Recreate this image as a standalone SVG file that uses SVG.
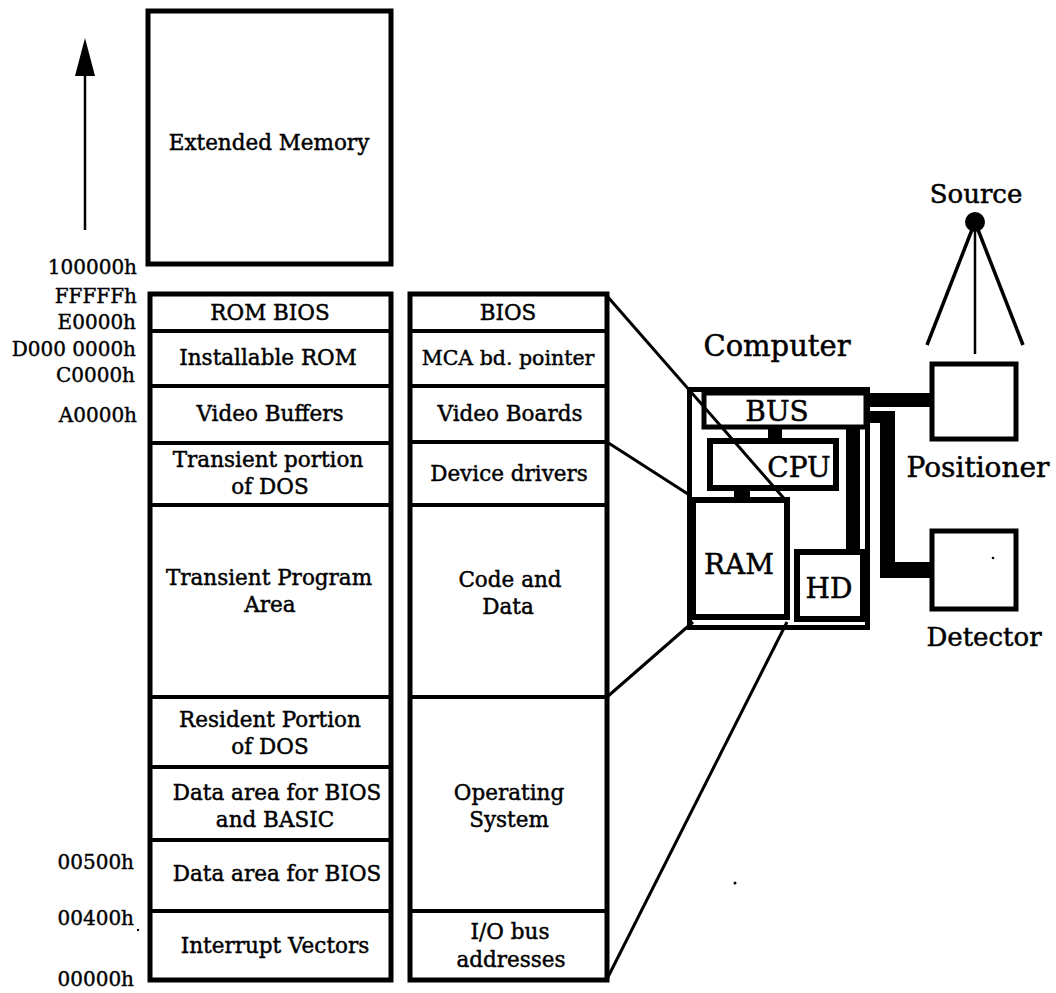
<svg xmlns="http://www.w3.org/2000/svg" width="1056" height="993" viewBox="0 0 1056 993">
<style>
.t{font-family:"DejaVu Serif","Liberation Serif",serif;font-size:21.5px;fill:#000;stroke:#000;stroke-width:0.45;text-anchor:middle}
.a{font-family:"DejaVu Serif","Liberation Serif",serif;font-size:20px;fill:#000;stroke:#000;stroke-width:0.4;text-anchor:end}
.b{font-family:"DejaVu Serif","Liberation Serif",serif;font-size:28px;fill:#000;stroke:#000;stroke-width:0.5;text-anchor:middle}
.box{fill:#fff;stroke:#000;stroke-width:5}
.div{stroke:#000;stroke-width:4}
.ln{stroke:#000;stroke-width:3;fill:none}
</style>
<rect width="1056" height="993" fill="#fff"/>

<g id="axis-arrow">
<line x1="85" y1="230" x2="85" y2="72" stroke="#000" stroke-width="2.5"/>
<polygon points="85,38 75,76 95,76" fill="#000"/>
</g>

<g id="address-labels">
<text class="a" x="137" y="274">100000h</text>
<text class="a" x="137" y="303">FFFFFh</text>
<text class="a" x="136" y="329">E0000h</text>
<text class="a" x="136" y="356">D000 0000h</text>
<text class="a" x="135" y="382">C0000h</text>
<text class="a" x="137" y="422">A0000h</text>
<text class="a" x="134" y="869">00500h</text>
<text class="a" x="134" y="925">00400h</text>
<text class="a" x="134" y="986">00000h</text>
</g>

<g id="extended-memory">
<rect class="box" x="148" y="11" width="243" height="253"/>
<text class="t" x="269" y="150">Extended Memory</text>
</g>

<g id="memory-map">
<rect class="box" x="150" y="294" width="241" height="686"/>
<line class="div" x1="150" y1="331" x2="391" y2="331"/>
<line class="div" x1="150" y1="386" x2="391" y2="386"/>
<line class="div" x1="150" y1="443" x2="391" y2="443"/>
<line class="div" x1="150" y1="505" x2="391" y2="505"/>
<line class="div" x1="150" y1="697" x2="391" y2="697"/>
<line class="div" x1="150" y1="767" x2="391" y2="767"/>
<line class="div" x1="150" y1="840" x2="391" y2="840"/>
<line class="div" x1="150" y1="911" x2="391" y2="911"/>
<text class="t" x="270" y="320">ROM BIOS</text>
<text class="t" x="268" y="365">Installable ROM</text>
<text class="t" x="270" y="421">Video Buffers</text>
<text class="t" x="268" y="467">Transient portion</text>
<text class="t" x="270" y="494">of DOS</text>
<text class="t" x="269" y="585">Transient Program</text>
<text class="t" x="270" y="612">Area</text>
<text class="t" x="270" y="727">Resident Portion</text>
<text class="t" x="270" y="754">of DOS</text>
<text class="t" x="277" y="800">Data area for BIOS</text>
<text class="t" x="275" y="827">and BASIC</text>
<text class="t" x="277" y="881">Data area for BIOS</text>
<text class="t" x="275" y="953">Interrupt Vectors</text>
</g>

<g id="usage-map">
<rect class="box" x="410" y="294" width="197" height="686"/>
<line class="div" x1="410" y1="331" x2="607" y2="331"/>
<line class="div" x1="410" y1="386" x2="607" y2="386"/>
<line class="div" x1="410" y1="442" x2="607" y2="442"/>
<line class="div" x1="410" y1="505" x2="607" y2="505"/>
<line class="div" x1="410" y1="697" x2="607" y2="697"/>
<line class="div" x1="410" y1="911" x2="607" y2="911"/>
<text class="t" x="508" y="320">BIOS</text>
<text class="t" x="508" y="365" style="font-size:20.5px">MCA bd. pointer</text>
<text class="t" x="510" y="421">Video Boards</text>
<text class="t" x="509" y="481">Device drivers</text>
<text class="t" x="510" y="587">Code and</text>
<text class="t" x="508" y="614">Data</text>
<text class="t" x="509" y="800">Operating</text>
<text class="t" x="509" y="827">System</text>
<text class="t" x="510" y="939">I/O bus</text>
<text class="t" x="511" y="967">addresses</text>
</g>

<g id="computer">
<rect x="689.5" y="389.5" width="178" height="238" fill="#fff" stroke="#000" stroke-width="5"/>
<rect x="704" y="393" width="162" height="34" fill="#fff" stroke="#000" stroke-width="5"/>
<rect x="768" y="428" width="14" height="13" fill="#000"/>
<rect x="710" y="441" width="126" height="47" fill="#fff" stroke="#000" stroke-width="6"/>
<rect x="734" y="488" width="16" height="11" fill="#000"/>
<rect x="693" y="500" width="94" height="117" fill="#fff" stroke="#000" stroke-width="6"/>
<rect x="846" y="428" width="14" height="123" fill="#000"/>
<rect x="797" y="552" width="66" height="67" fill="#fff" stroke="#000" stroke-width="6"/>
<text class="b" x="777" y="356" style="font-size:29px">Computer</text>
<text class="b" x="777" y="421">BUS</text>
<text class="b" x="799" y="477">CPU</text>
<text class="b" x="739" y="574">RAM</text>
<text class="b" x="829" y="598">HD</text>
</g>

<g id="connectors">
<line class="ln" x1="607" y1="296" x2="788" y2="503"/>
<line class="ln" x1="607" y1="442" x2="691" y2="496"/>
<line class="ln" x1="607" y1="697" x2="693" y2="622"/>
<line class="ln" x1="607" y1="979" x2="787" y2="622"/>
<rect x="866" y="393" width="66" height="14" fill="#000"/>
<path d="M866,411 H895 V562 H932 V578 H880 V423 H866 Z" fill="#000"/>
<line class="ln" x1="975" y1="222" x2="927" y2="345" style="stroke-width:3.5"/>
<line class="ln" x1="975" y1="222" x2="975" y2="354" style="stroke-width:2.5"/>
<line class="ln" x1="975" y1="222" x2="1023" y2="345" style="stroke-width:3.5"/>
</g>

<g id="source">
<circle cx="975" cy="222" r="10" fill="#000"/>
<text class="b" x="976" y="203" style="font-size:26px">Source</text>
</g>

<g id="positioner">
<rect class="box" x="932" y="364" width="84" height="75"/>
<text class="b" x="978" y="477">Positioner</text>
</g>

<g id="detector">
<rect class="box" x="932" y="531" width="84" height="78"/>
<circle cx="993" cy="558" r="1.3" fill="#000"/>
<text class="b" x="984" y="646" style="font-size:26px">Detector</text>
</g>

<g id="specks">
<circle cx="138" cy="930" r="1.2" fill="#000"/>
<circle cx="735" cy="883" r="1.5" fill="#000"/>
</g>
</svg>
